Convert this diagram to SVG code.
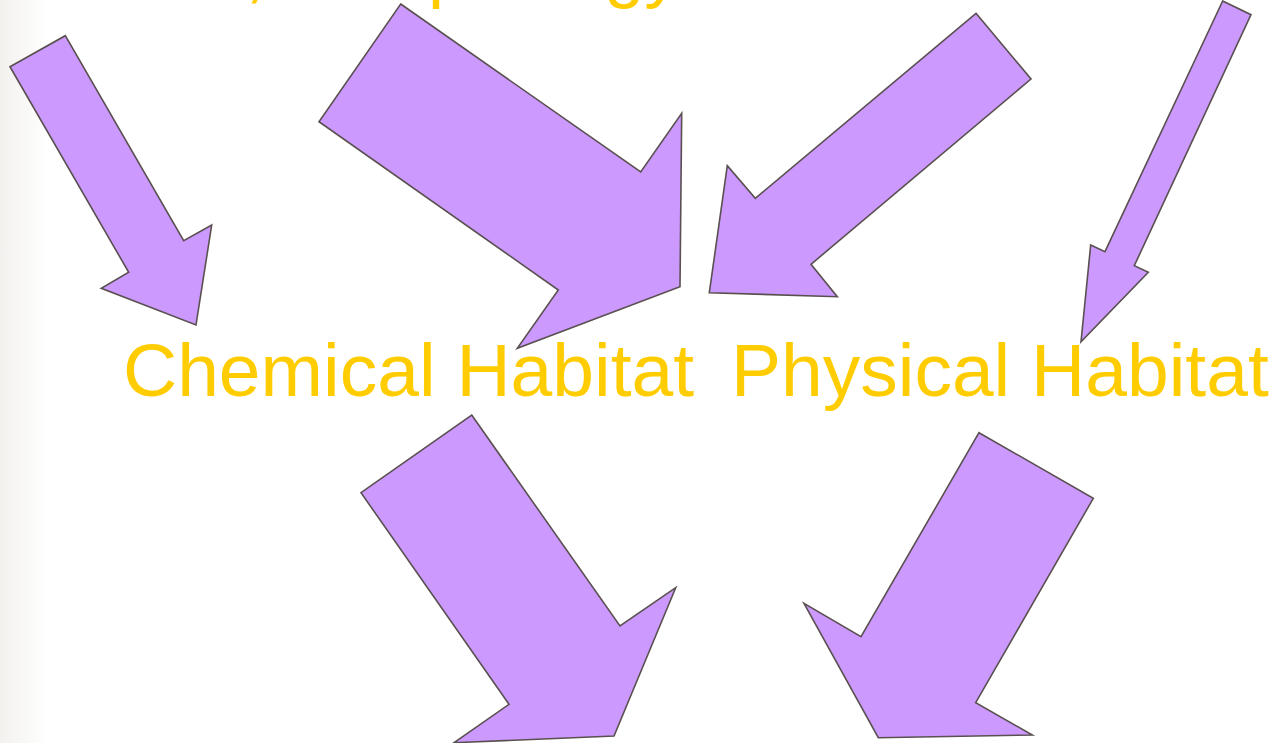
<svg xmlns="http://www.w3.org/2000/svg" width="1275" height="743" viewBox="0 0 1275 743">
  <style>
    .arrow { fill: #CC99FF; stroke: #5A5050; stroke-width: 1.6; stroke-linejoin: miter; }
    .label { font-family: "Liberation Sans", Arial, sans-serif; font-size: 75px; fill: #FFCC00; }
    .top { font-size: 72px; }
  </style>
  <defs>
    <linearGradient id="edge" x1="0" y1="0" x2="1" y2="0">
      <stop offset="0" stop-color="#F2F1EE"/>
      <stop offset="1" stop-color="#FFFFFF"/>
    </linearGradient>
  </defs>
  <rect x="0" y="0" width="1275" height="743" fill="#FFFFFF"/>
  <rect x="0" y="0" width="48" height="743" fill="url(#edge)"/>

  <g id="top-label">
    <text class="label top" y="-6"><tspan x="1">Climate,</tspan><tspan x="304">Morphology</tspan></text>
  </g>
  <g id="chemical-habitat">
    <text class="label" x="123" y="396">Chemical Habitat</text>
  </g>
  <g id="physical-habitat">
    <text class="label" x="731" y="396">Physical Habitat</text>
  </g>

  <g id="connectors">
    <polygon class="arrow" points="10,66.7 65.3,35.7 183.7,240.7 211.7,225 196,325 101.3,288.3 128.7,272.3"/>
    <polygon class="arrow" points="400.7,4 640.7,172 681.7,113.3 680,286.7 517.3,348.3 558.3,290 319,121.7"/>
    <polygon class="arrow" points="976,13.3 1031,79 811,264.3 837.3,296.7 709.3,292.7 727.3,165.7 755.3,198.3"/>
    <polygon class="arrow" points="1222.7,1 1251,14.7 1134.3,265.7 1148.3,272.3 1081,341.7 1090.7,245 1105,251.7"/>
    <polygon class="arrow" points="471.7,415 620,626 675.7,587.7 614,736 454,742.7 509,704.3 361,492.7"/>
    <polygon class="arrow" points="979,432.7 1093.3,498.3 975.7,702.7 1032.3,735 878.3,737.7 804,603.3 861,636.7"/>
  </g>
</svg>
